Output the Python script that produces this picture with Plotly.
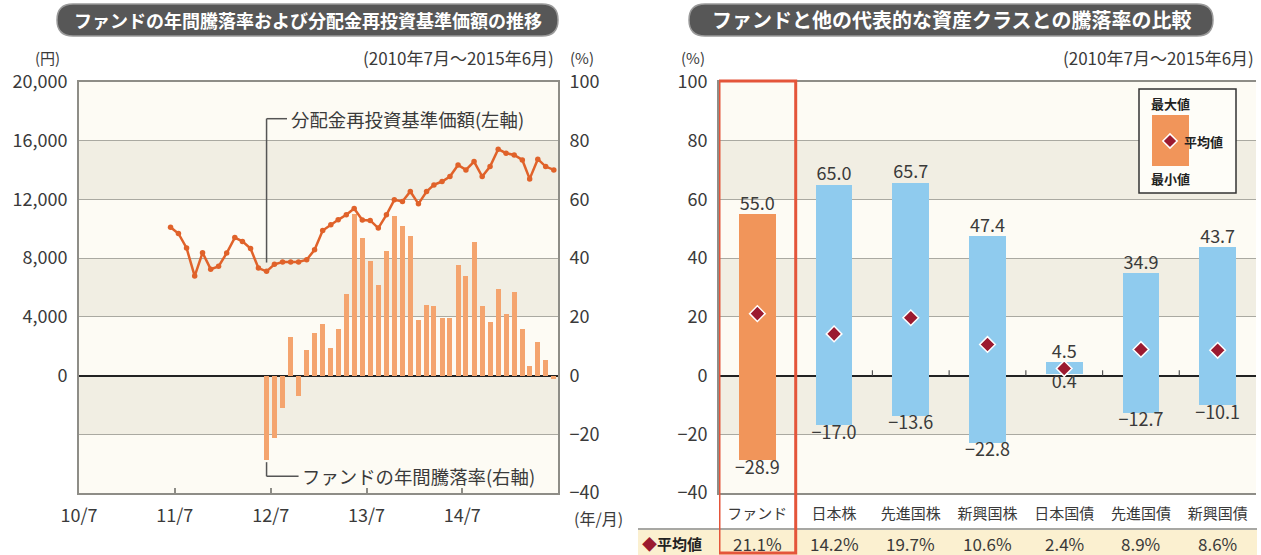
import pandas as pd
import plotly.graph_objects as go

# ---------------- data ----------------
# Left chart: monthly NAV (dividend reinvested), 2011/6 - 2015/6 (yen)
nav_start = "2011-06"
nav_values = [10100, 9680, 8690, 6780, 8370, 7250, 7440,            # 2011/6-12
              8345, 9400, 9140, 8650, 7325, 7100, 7580, 7740, 7740, 7740, 7890, 8570,   # 2012
              9880, 10270, 10610, 10950, 11380, 10600, 10570, 10050, 10950, 11970, 11860, 12540,  # 2013
              11700, 12540, 12990, 13220, 13560, 14350, 14010, 14580, 13560, 14240, 15420, 15150,  # 2014
              15030, 14690, 13400, 14740, 14240, 14010]            # 2015/1-6
# Left chart: 1-year return (%), 2012/6 - 2015/6
ret_start = "2012-06"
ret_values = [-28.9, -21.2, -11.0, 13.2, -7.0, 8.8, 14.5,
              17.7, 9.4, 16.0, 27.9, 55.0, 46.8, 38.9, 31.0, 42.3, 54.5, 50.8, 47.6,
              19.0, 24.1, 23.8, 19.6, 19.6, 37.8, 33.8, 45.5, 23.8, 18.1, 29.5, 21.1,
              28.3, 15.9, 3.4, 11.3, 5.2, -1.0]
x_tick_dates = ["2010-07-01", "2011-07-01", "2012-07-01", "2013-07-01", "2014-07-01"]
x_tick_text = ["10/7", "11/7", "12/7", "13/7", "14/7"]
yen_ticks = [0, 4000, 8000, 12000, 16000, 20000]
pct_ticks = [-40, -20, 0, 20, 40, 60, 80, 100]

# Right chart
categories = ["ファンド", "日本株", "先進国株", "新興国株", "日本国債", "先進国債", "新興国債"]
max_values = [55.0, 65.0, 65.7, 47.4, 4.5, 34.9, 43.7]
min_values = [-28.9, -17.0, -13.6, -22.8, 0.4, -12.7, -10.1]
avg_values = [21.1, 14.2, 19.7, 10.6, 2.4, 8.9, 8.6]

title_left = "ファンドの年間騰落率および分配金再投資基準価額の推移"
title_right = "ファンドと他の代表的な資産クラスとの騰落率の比較"

# ---------------- helpers ----------------
W, H = 1261, 555
FONT = "Noto Sans CJK JP, Noto Sans, sans-serif"
TXT = "#3a3a3a"
GRID = "#aaa9a1"
FRAME = "#8e8d87"
LIGHT = "#fdfbf4"
DARK = "#f1eee3"
ORANGE_BAR = "#f4a46e"
LINE_C = "#e0622a"
FUND_C = "#f1955a"
BLUE_C = "#8fcbee"
DIAM_C = "#9b1a30"
TICK_SIZE = 18


def px(x):
    return x / W


def py(y):
    return 1 - y / H


def mid_month(start, n):
    return [p.to_timestamp() + pd.Timedelta(days=14) for p in pd.period_range(start, periods=n, freq="M")]


def minus(s):
    return s.replace("-", "−")


nav_dates = mid_month(nav_start, len(nav_values))
ret_dates = mid_month(ret_start, len(ret_values))

fig = go.Figure()

# left chart bars (% axis = y, right side)
fig.add_trace(go.Bar(x=ret_dates, y=ret_values, xaxis="x", yaxis="y",
                     marker=dict(color=ORANGE_BAR, line=dict(width=0)),
                     width=19 * 86400000, showlegend=False, hoverinfo="skip"))
# left chart line (yen axis = y2, left side)
fig.add_trace(go.Scatter(x=nav_dates, y=nav_values, xaxis="x", yaxis="y2",
                         mode="lines+markers", line=dict(color=LINE_C, width=2.5),
                         marker=dict(color=LINE_C, size=5.5), showlegend=False, hoverinfo="skip"))

# right chart floating bars
colors = [FUND_C] + [BLUE_C] * (len(categories) - 1)
fig.add_trace(go.Bar(x=categories, y=[a - b for a, b in zip(max_values, min_values)],
                     base=min_values, xaxis="x2", yaxis="y3", width=0.48,
                     marker=dict(color=colors, line=dict(width=0)),
                     showlegend=False, hoverinfo="skip"))
fig.add_trace(go.Scatter(x=categories, y=max_values, xaxis="x2", yaxis="y3", mode="text",
                         text=[f"{v:.1f}" for v in max_values], textposition="top center",
                         textfont=dict(size=18, color=TXT, family=FONT), showlegend=False,
                         hoverinfo="skip"))
fig.add_trace(go.Scatter(x=categories, y=min_values, xaxis="x2", yaxis="y3", mode="text",
                         text=[minus(f"{v:.1f}") for v in min_values], textposition="bottom center",
                         textfont=dict(size=18, color=TXT, family=FONT), showlegend=False,
                         hoverinfo="skip"))
fig.add_trace(go.Scatter(x=categories, y=avg_values, xaxis="x2", yaxis="y3", mode="markers",
                         marker=dict(symbol="diamond", size=12, color=DIAM_C,
                                     line=dict(color="white", width=1.5)),
                         showlegend=False, hoverinfo="skip"))

ydom = [py(493), py(82)]
pct_text = [minus(str(v)) for v in pct_ticks]
yen_text = [f"{v:,}" for v in yen_ticks]

fig.update_layout(
    width=W, height=H, autosize=False,
    margin=dict(l=0, r=0, t=0, b=0, pad=0, autoexpand=False),
    paper_bgcolor="white", plot_bgcolor="rgba(0,0,0,0)",
    font=dict(family=FONT, color=TXT),
    bargap=0, showlegend=False,
    xaxis=dict(domain=[px(79), px(558)], anchor="y", type="date", automargin=False,
               range=["2010-07-01", "2015-07-01"], tickvals=x_tick_dates, ticktext=x_tick_text,
               ticks="inside", ticklen=5, tickcolor=FRAME, tickwidth=1.5,
               showline=True, mirror=True, linecolor=FRAME, linewidth=2,
               showgrid=False, zeroline=False, tickfont=dict(size=TICK_SIZE, color=TXT),
               ticklabelstandoff=5),
    yaxis=dict(domain=ydom, anchor="x", side="right", range=[-40, 100], automargin=False,
               tickvals=pct_ticks, ticktext=pct_text, showgrid=True, gridcolor=GRID, gridwidth=1,
               zeroline=True, zerolinecolor="#222", zerolinewidth=2,
               showline=True, linecolor=FRAME, linewidth=2, ticks="",
               tickfont=dict(size=TICK_SIZE, color=TXT), ticklabelstandoff=6),
    yaxis2=dict(overlaying="y", anchor="x", side="left", range=[-8000, 20000], automargin=False,
                tickvals=yen_ticks, ticktext=yen_text, showgrid=False, zeroline=False,
                showline=True, linecolor=FRAME, linewidth=2, ticks="",
                tickfont=dict(size=TICK_SIZE, color=TXT), ticklabelstandoff=6),
    xaxis2=dict(domain=[px(719), px(1256)], anchor="y3", type="category", automargin=False,
                range=[-0.5, len(categories) - 0.5], showline=True, mirror=True,
                linecolor=FRAME, linewidth=2, ticks="", showgrid=False,
                tickfont=dict(size=15, color=TXT), ticklabelstandoff=6),
    yaxis3=dict(domain=ydom, anchor="x2", range=[-40, 100], tickvals=pct_ticks, automargin=False,
                ticktext=pct_text, showgrid=True, gridcolor=GRID, gridwidth=1,
                zeroline=True, zerolinecolor="#222", zerolinewidth=2,
                showline=True, linecolor=FRAME, linewidth=2, ticks="",
                tickfont=dict(size=TICK_SIZE, color=TXT), ticklabelstandoff=6),
    # helper overlay for legend-box items (range = paper fractions)
    xaxis3=dict(domain=[0, 1], range=[0, 1], visible=False, anchor="y4", fixedrange=True,
                automargin=False),
    yaxis4=dict(domain=[0, 1], range=[0, 1], visible=False, anchor="x3", fixedrange=True,
                automargin=False),
)

shapes = []
# background bands
for xr, yr in (("x domain", "y"), ("x2 domain", "y3")):
    for lo in range(-40, 100, 20):
        shapes.append(dict(type="rect", xref=xr, yref=yr, x0=0, x1=1, y0=lo, y1=lo + 20,
                           fillcolor=DARK if (lo // 20) % 2 else LIGHT,
                           line=dict(width=0), layer="below"))


def pill(x0, x1, y0, y1):
    r = (y1 - y0) / 2
    ym = (y0 + y1) / 2
    path = f"M {px(x0 + r)},{py(y0)} L {px(x1 - r)},{py(y0)} " \
           f"Q {px(x1)},{py(y0)} {px(x1)},{py(ym)} Q {px(x1)},{py(y1)} {px(x1 - r)},{py(y1)} " \
           f"L {px(x0 + r)},{py(y1)} Q {px(x0)},{py(y1)} {px(x0)},{py(ym)} " \
           f"Q {px(x0)},{py(y0)} {px(x0 + r)},{py(y0)} Z"
    return dict(type="path", xref="paper", yref="paper", path=path,
                fillcolor="#575757", line=dict(color="#9a9a9a", width=1.5), layer="above")


shapes.append(pill(57, 558, 4, 36))
shapes.append(pill(689, 1213, 4, 36))

# leader lines (left chart)
lead_x = "2012-06-15"
shapes.append(dict(type="line", xref="x", yref="y2", x0=lead_x, x1=lead_x, y0=7700, y1=17500,
                   line=dict(color="#555", width=1.5)))
shapes.append(dict(type="line", xref="x", yref="y2", x0=lead_x, x1="2012-09-01", y0=17500, y1=17500,
                   line=dict(color="#555", width=1.5)))
shapes.append(dict(type="line", xref="x", yref="y", x0=lead_x, x1=lead_x, y0=-29.5, y1=-34.3,
                   line=dict(color="#555", width=1.5)))
shapes.append(dict(type="line", xref="x", yref="y", x0=lead_x, x1="2012-10-15", y0=-34.3, y1=-34.3,
                   line=dict(color="#555", width=1.5)))

# small ticks on right chart zero line at category boundaries
for k in range(len(categories) - 1):
    shapes.append(dict(type="line", xref="x2", yref="y3", x0=k + 0.5, x1=k + 0.5, y0=0, y1=1.8,
                       line=dict(color="#555", width=1.2)))

# table row
shapes.append(dict(type="rect", xref="paper", yref="paper", x0=px(638), x1=px(1257),
                   y0=0, y1=py(530), fillcolor="#fbf0d0", line=dict(width=0), layer="below"))
shapes.append(dict(type="line", xref="paper", yref="paper", x0=px(638), x1=px(1257),
                   y0=py(529), y1=py(529), line=dict(color="#8a8a84", width=1.5)))
# red frame around fund column
shapes.append(dict(type="rect", xref="x2", yref="paper", x0=-0.5, x1=0.5, y0=py(553), y1=py(81),
                   line=dict(color="#e4553a", width=3), fillcolor="rgba(0,0,0,0)", layer="above"))

# legend box (drawn in the helper overlay, below its diamond marker)
shapes.append(dict(type="rect", xref="x3", yref="y4", x0=px(1139), x1=px(1236),
                   y0=py(193), y1=py(89), fillcolor="#fefdf8", line=dict(color="#333", width=1.5),
                   layer="below"))
shapes.append(dict(type="rect", xref="x3", yref="y4", x0=px(1152), x1=px(1189),
                   y0=py(166), y1=py(115), fillcolor=FUND_C, line=dict(width=0), layer="below"))

annotations = []


def ann(text, x, y, size=15, xanchor="center", xref="paper", color=TXT, yanchor="middle"):
    annotations.append(dict(text=text, x=x, y=y, xref=xref, yref="paper", showarrow=False,
                            xanchor=xanchor, yanchor=yanchor,
                            font=dict(size=size, color=color, family=FONT)))


ann(f"<b>{title_left}</b>", px(308), py(20), size=18, color="white")
ann(f"<b>{title_right}</b>", px(951), py(20), size=20, color="white")
ann("(円)", px(47), py(57), size=15)
ann("(2010年7月〜2015年6月)", px(556), py(57), size=17, xanchor="right")
ann("(%)", px(582), py(57), size=15)
ann("(年/月)", px(598), py(518), size=16)
ann("(%)", px(693), py(57), size=15)
ann("(2010年7月〜2015年6月)", px(1256), py(57), size=17, xanchor="right")

annotations.append(dict(text="分配金再投資基準価額(左軸)", x="2012-09-10", y=17500, xref="x", yref="y2",
                        showarrow=False, xanchor="left", yanchor="middle",
                        font=dict(size=18.4, color=TXT, family=FONT)))
annotations.append(dict(text="ファンドの年間騰落率(右軸)", x="2012-10-20", y=-34.3, xref="x", yref="y",
                        showarrow=False, xanchor="left", yanchor="middle",
                        font=dict(size=18.4, color=TXT, family=FONT)))

# legend box texts
ann("<b>最大値</b>", px(1170), py(104), size=13, color="#222")
ann("<b>最小値</b>", px(1170), py(178), size=13, color="#222")
ann("<b>平均値</b>", px(1182), py(141), size=13, color="#222", xanchor="left")

# average row
ann(f"<b><span style='color:{DIAM_C}'>◆</span>平均値</b>", px(640), py(543), size=15,
    xanchor="left", color="#222")
for c, v in zip(categories, avg_values):
    annotations.append(dict(text=f"{v:.1f}%", x=c, y=py(543), xref="x2", yref="paper",
                            showarrow=False, xanchor="center", yanchor="middle",
                            font=dict(size=17, color=TXT, family=FONT)))

fig.update_layout(shapes=shapes, annotations=annotations)

# legend diamond in box
fig.add_trace(go.Scatter(x=[px(1170)], y=[py(141)], xaxis="x3", yaxis="y4", mode="markers",
                         marker=dict(symbol="diamond", size=11, color=DIAM_C,
                                     line=dict(color="white", width=1.5)),
                         showlegend=False, hoverinfo="skip"))

fig.write_html("out.html", config={"responsive": False, "displayModeBar": False},
               post_script="document.body.style.margin='0';document.body.style.padding='0';")
